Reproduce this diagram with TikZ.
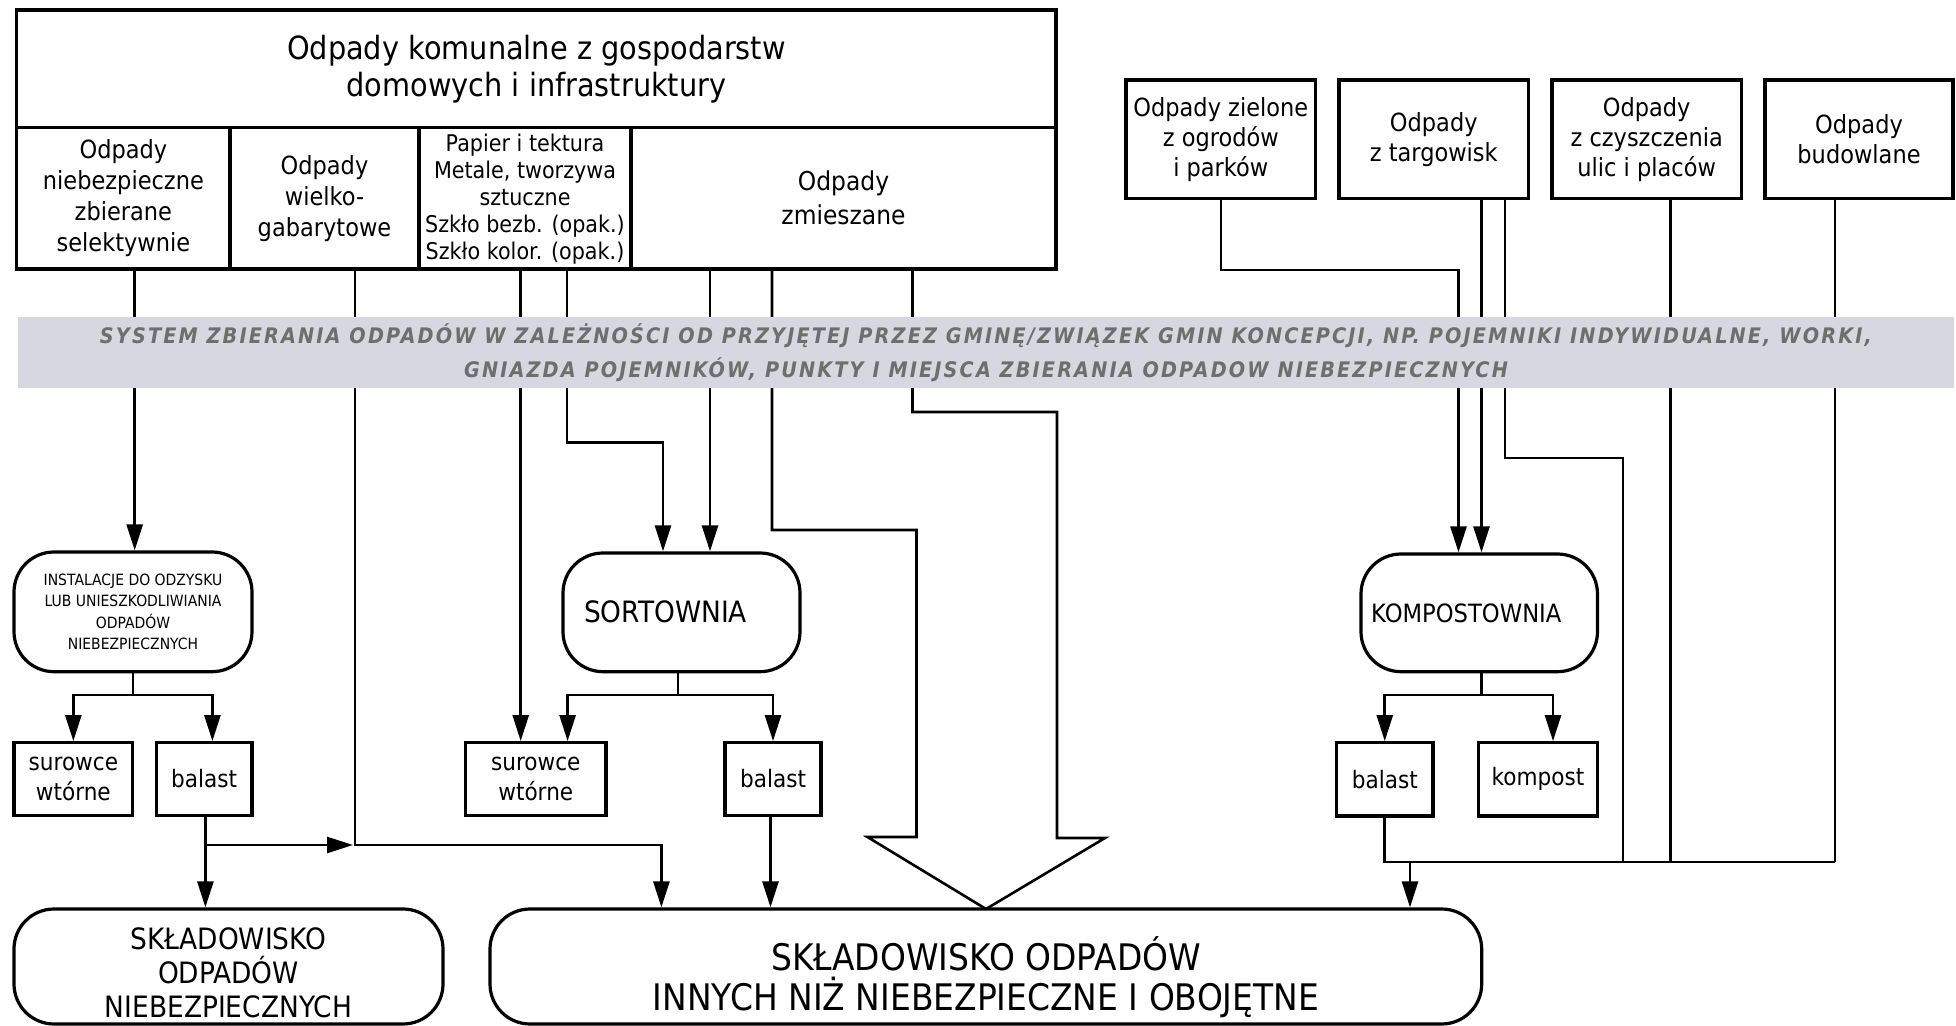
\documentclass[tikz,border=0pt]{standalone}
\usepackage{fontspec}
\setmainfont{DejaVu Sans}[FakeStretch=0.9]
\newfontfamily\bandfont{DejaVu Sans}[FakeStretch=0.9,LetterSpace=10]
\usetikzlibrary{arrows.meta}
\definecolor{bandfill}{HTML}{D7D7E1}
\definecolor{bandtext}{HTML}{6E6E6E}
\newcommand\ftitle{\fontsize{16pt}{18.5pt}\selectfont}
\newcommand\fnorm{\fontsize{12.5pt}{15.5pt}\selectfont}
\newcommand\fsmall{\fontsize{11.5pt}{13.5pt}\selectfont}
\newcommand\ftiny{\fontsize{7.75pt}{10.8pt}\selectfont}
\newcommand\fband{\bandfont\bfseries\itshape\fontsize{10.7pt}{17pt}\selectfont}
\newcommand\mkbox[7]{%
  \pgfmathsetmacro\bxcx{(#2+#4)/2}%
  \pgfmathsetmacro\bxcy{(#3+#5)/2}%
  \pgfmathsetmacro\bxw{(#4-#2)*0.5}%
  \pgfmathsetmacro\bxh{(#5-#3)*0.5}%
  \node[#6, minimum width=\bxw pt, minimum height=\bxh pt] (#1) at (\bxcx,\bxcy) {#7};}
\tikzset{
  cell/.style={draw, line width=1.6pt, inner sep=0pt, align=center, font=\fnorm},
  rbox/.style={cell, rounded corners=20pt},
  bandbox/.style={fill=bandfill, inner sep=0pt, align=center, text=bandtext, font=\fband},
  ln/.style={line width=1.3pt},
  arr/.style={ln, -{Triangle[length=13pt,width=8pt]}},
}
\begin{document}
\begin{tikzpicture}[x=0.5pt,y=-0.5pt]
\useasboundingbox (0,0) rectangle (1956,1026);
% top block
\mkbox{title}{16.8}{10}{1056}{127.5}{cell,font=\ftitle}{Odpady komunalne z gospodarstw\\domowych i infrastruktury}
\mkbox{b1}{16.8}{127.5}{230}{269}{cell}{Odpady\\niebezpieczne\\zbierane\\selektywnie}
\mkbox{b2}{230}{127.5}{419}{269}{cell}{Odpady\\wielko-\\gabarytowe}
\mkbox{b3}{419}{127.5}{631}{269}{cell,font=\fsmall}{\rule{0pt}{6pt}\\[-10pt]Papier i tektura\\Metale, tworzywa\\sztuczne\\Szkło bezb. (opak.)\\Szkło kolor. (opak.)}
\mkbox{b4}{631}{127.5}{1056}{269}{cell,font=\fontsize{13pt}{17pt}\selectfont}{Odpady\\zmieszane}
% right sources
\mkbox{ziel}{1126}{80}{1315.6}{198.5}{cell,font=\fontsize{12.5pt}{15pt}\selectfont}{Odpady zielone\\z ogrodów\\i parków}
\mkbox{targ}{1339}{80}{1528.5}{198.5}{cell,font=\fontsize{12.5pt}{15pt}\selectfont}{Odpady\\z targowisk}
\mkbox{czysz}{1552}{80}{1741.4}{198.5}{cell,font=\fontsize{12.5pt}{15pt}\selectfont}{Odpady\\z czyszczenia\\ulic i placów}
\mkbox{budow}{1765}{80}{1953}{198.5}{cell,font=\fontsize{12.5pt}{15pt}\selectfont}{Odpady\\budowlane}
% installations
\mkbox{inst}{14}{552}{252}{671.7}{rbox,font=\ftiny}{INSTALACJE DO ODZYSKU\\LUB UNIESZKODLIWIANIA\\ODPADÓW\\NIEBEZPIECZNYCH}
\mkbox{sort}{563}{553}{800}{671.7}{rbox}{}
\node[anchor=base west, inner sep=0pt, font=\fontsize{14.7pt}{16pt}\selectfont] (sorttxt) at (583.6,623) {SORTOWNIA};
\mkbox{komp}{1361}{554}{1597.5}{671.7}{rbox}{}
\node[anchor=base west, inner sep=0pt, font=\fontsize{12.6pt}{15pt}\selectfont] (komptxt) at (1370.7,623) {KOMPOSTOWNIA};
% products
\mkbox{sur1}{14}{742.7}{132.7}{815.3}{cell,font=\fontsize{12pt}{15pt}\selectfont}{surowce\\wtórne}
\mkbox{bal1}{156.3}{742.7}{252}{815.3}{cell,font=\fontsize{12pt}{15pt}\selectfont}{balast}
\mkbox{sur2}{465.6}{742.7}{606}{815.3}{cell,font=\fontsize{12pt}{15pt}\selectfont}{surowce\\wtórne}
\mkbox{bal2}{725}{742.7}{821}{815.3}{cell,font=\fontsize{12pt}{15pt}\selectfont}{balast}
\mkbox{bal3}{1336.5}{742.7}{1433}{816}{cell,font=\fontsize{12pt}{15pt}\selectfont}{balast}
\mkbox{komps}{1478.6}{742.7}{1597.5}{816}{cell,font=\fontsize{12pt}{15pt}\selectfont}{kompost}
% landfills
\mkbox{skl1}{14}{909}{443}{1024}{rbox}{}
\node[font=\fontsize{14.7pt}{17pt}\selectfont, align=center, inner sep=0pt] (skl1txt) at (228.5,973) {SKŁADOWISKO\\ODPADÓW\\NIEBEZPIECZNYCH};
\mkbox{big}{490}{909}{1481.7}{1024}{rbox}{}
\node[font=\fontsize{18.3pt}{20.3pt}\selectfont, align=center, inner sep=0pt] (bigtxt) at (986,977) {SKŁADOWISKO ODPADÓW\\INNYCH NIŻ NIEBEZPIECZNE I OBOJĘTNE};
% junction coordinates
\coordinate (tip) at (986,909);
\coordinate (j1) at (205.4,845);
\coordinate (j2) at (355,845);
\coordinate (jinst) at (133,695);
\coordinate (jsort) at (678,695);
\coordinate (jkomp) at (1481.7,695);
\coordinate (jr) at (1835,862);
% connectors from top block
\draw[arr] (134.7,0 |- b1.south) -- (134.7,0 |- inst.north);
\draw[arr] (355,0 |- b2.south) -- (j2) -| (661.4,0 |- big.north);
\draw[arr] (520.7,0 |- b3.south) -- (520.7,0 |- sur2.north);
\draw[arr] (567,0 |- b3.south) -- (567,442.7) -| (663,0 |- sort.north);
\draw[arr] (710,0 |- b4.south) -- (710,0 |- sort.north);
\draw[ln] (772,0 |- b4.south) -- (772,530) -- (916.5,530) -- (916.5,837) -- (867.4,837) -- (tip);
\draw[ln] (912.5,0 |- b4.south) -- (912.5,412) -- (1057,412) -- (1057,838) -- (1105,838) -- (tip);
% connectors from right sources
\draw[arr] (ziel.south) -- (ziel.south |- 0,270) -| (1458.5,0 |- komp.north);
\draw[arr] (1481.5,0 |- targ.south) -- (1481.5,0 |- komp.north);
\draw[ln] (1505,0 |- targ.south) -- (1505,458) -- (1623,458) -- (1623,0 |- jr);
\draw[ln] (1670.7,0 |- czysz.south) -- (1670.7,0 |- jr);
\draw[ln] (1835,0 |- budow.south) -- (jr);
\draw[ln] (bal3.south) |- (jr);
\draw[arr] (1410,0 |- jr) -- (1410,0 |- big.north);
% outputs of installations
\draw[ln] (inst.south) -- (jinst);
\draw[arr] (jinst) -| (sur1.north);
\draw[arr] (jinst) -| (212.4,0 |- bal1.north);
\draw[ln] (678,0 |- sort.south) -- (jsort);
\draw[arr] (jsort) -| (567.6,0 |- sur2.north);
\draw[arr] (jsort) -| (bal2.north);
\draw[ln] (1481.7,0 |- komp.south) -- (jkomp);
\draw[arr] (jkomp) -| (bal3.north);
\draw[arr] (jkomp) -| (1553,0 |- komps.north);
% to landfills
\draw[arr] (205.4,0 |- bal1.south) -- (205.4,0 |- skl1.north);
\draw[arr] (j1) -- (353,845);
\draw[arr] (770.5,0 |- bal2.south) -- (770.5,0 |- big.north);
% band over lines
\mkbox{band}{18}{317}{1954}{388}{bandbox}{SYSTEM ZBIERANIA ODPADÓW W ZALEŻNOŚCI OD PRZYJĘTEJ PRZEZ GMINĘ/ZWIĄZEK GMIN KONCEPCJI, NP. POJEMNIKI INDYWIDUALNE, WORKI,\\GNIAZDA POJEMNIKÓW, PUNKTY I MIEJSCA ZBIERANIA ODPADOW NIEBEZPIECZNYCH}
\end{tikzpicture}
\end{document}
